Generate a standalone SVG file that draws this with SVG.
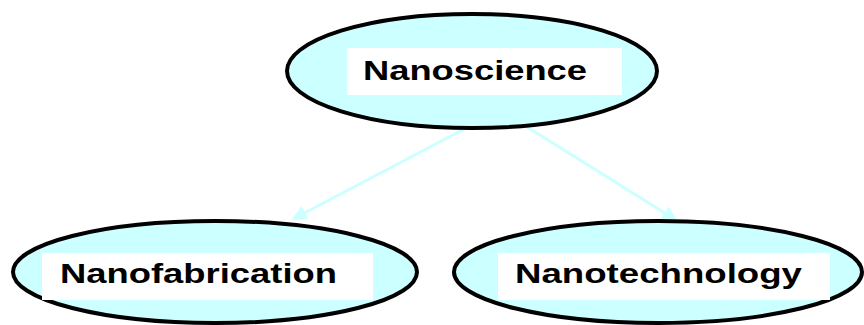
<svg xmlns="http://www.w3.org/2000/svg" width="864" height="325" viewBox="0 0 864 325">
<style>
.node{fill:#ccffff;stroke:#000;stroke-width:4}
.box{fill:#fff}
.lbl{font-family:"Liberation Sans",Arial,sans-serif;font-weight:bold;font-size:27px;fill:#000}
.conn{stroke:#ccffff;stroke-width:3;fill:none;marker-end:url(#ah)}
</style>
<defs>
<marker id="ah" viewBox="0 0 10 10" refX="9" refY="5" markerWidth="5" markerHeight="5" orient="auto" markerUnits="strokeWidth">
<path d="M0,0 L10,5 L0,10 z" fill="#ccffff"/>
</marker>
</defs>
<rect width="864" height="325" fill="#fff"/>
<g id="connectors">
<line class="conn" x1="468" y1="127" x2="293" y2="219"/>
<line class="conn" x1="527" y1="127" x2="676" y2="220"/>
</g>
<g id="nanoscience">
<ellipse class="node" cx="472" cy="71" rx="185" ry="57"/>
<rect class="box" x="347" y="48" width="275" height="47"/>
<text class="lbl" x="363" y="80" textLength="224" lengthAdjust="spacingAndGlyphs">Nanoscience</text>
</g>
<g id="nanofabrication">
<ellipse class="node" cx="215" cy="272" rx="202" ry="51"/>
<rect class="box" x="42" y="253" width="331" height="47"/>
<text class="lbl" x="60" y="283" textLength="277" lengthAdjust="spacingAndGlyphs">Nanofabrication</text>
</g>
<g id="nanotechnology">
<ellipse class="node" cx="658" cy="272" rx="204" ry="51"/>
<rect class="box" x="498" y="253" width="332" height="47"/>
<text class="lbl" x="515" y="283" textLength="287" lengthAdjust="spacingAndGlyphs">Nanotechnology</text>
</g>
</svg>
